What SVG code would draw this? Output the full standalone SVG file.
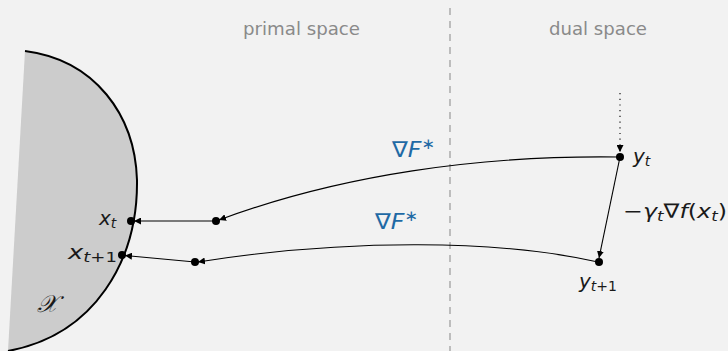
<svg xmlns="http://www.w3.org/2000/svg" width="728" height="351" viewBox="0 0 728 351">
<style>
.lbl{font-family:"DejaVu Sans","Liberation Sans",sans-serif;font-size:18px;fill:#8a8a8a}
.m{font-family:"DejaVu Sans","Liberation Sans",sans-serif;fill:#1a1a1a;font-style:italic;font-size:20px}
.sub{font-size:14px}
.up{font-style:normal}
.blue{font-family:"DejaVu Sans","Liberation Sans",sans-serif;fill:#1f6aa5;font-size:22px}
.edge{fill:none;stroke:#000;stroke-width:1.1}
.dot{fill:#000}
</style>
<defs>
<marker id="ah" viewBox="0 0 10 10" refX="10" refY="5" markerWidth="7" markerHeight="7" markerUnits="userSpaceOnUse" orient="auto">
<path d="M0,0 L10,5 L0,10 z" fill="#000"/>
</marker>
</defs>
<rect width="728" height="351" fill="#f2f2f2"/>
<g id="divider">
<line x1="450" y1="8" x2="450" y2="351" stroke="#999" stroke-width="1.2" stroke-dasharray="7,6"/>
</g>
<g id="headers">
<text class="lbl" x="243" y="35" textLength="117" lengthAdjust="spacingAndGlyphs">primal space</text>
<text class="lbl" x="549" y="35" textLength="98" lengthAdjust="spacingAndGlyphs">dual space</text>
</g>
<g id="region-X">
<path d="M25,51 C95,60 135,115 137,180 C138,260 95,335 8,351 L8,351 Z" fill="#cccccc" stroke="none"/>
<path d="M25,51 C95,60 135,115 137,180 C138,260 95,335 8,351" fill="none" stroke="#000" stroke-width="2"/>
<text x="37" y="312" style="font-family:'DejaVu Serif','Liberation Serif',serif;font-style:italic;font-size:24px;fill:#1a1a1a">𝒳</text>
</g>
<g id="connectors">
<line class="edge" x1="620" y1="93" x2="620" y2="152" stroke-dasharray="1.2,4.5" marker-end="url(#ah)"/>
<path class="edge" d="M620,157 C480,155 340,175 219,220" marker-end="url(#ah)"/>
<path class="edge" d="M598,262 C500,240 350,238 198,262" marker-end="url(#ah)"/>
<line class="edge" x1="216" y1="221" x2="134" y2="221" marker-end="url(#ah)"/>
<line class="edge" x1="195" y1="262" x2="125" y2="255.5" marker-end="url(#ah)"/>
<line class="edge" x1="620" y1="157" x2="599" y2="258" marker-end="url(#ah)"/>
</g>
<g id="node-xt">
<circle class="dot" cx="131" cy="221" r="4"/>
<text class="m" x="99" y="225">x<tspan class="sub" dy="3">t</tspan></text>
</g>
<g id="node-xt1">
<circle class="dot" cx="122" cy="255" r="4"/>
<text class="m" x="68" y="259" textLength="49" lengthAdjust="spacingAndGlyphs">x<tspan class="sub" dy="3">t<tspan class="up">+1</tspan></tspan></text>
</g>
<g id="node-p1">
<circle class="dot" cx="216" cy="221" r="4"/>
</g>
<g id="node-p2">
<circle class="dot" cx="195" cy="262" r="4"/>
</g>
<g id="node-yt">
<circle class="dot" cx="620" cy="157" r="4"/>
<text class="m" x="633" y="163">y<tspan class="sub" dy="3">t</tspan></text>
</g>
<g id="node-yt1">
<circle class="dot" cx="599" cy="262" r="4"/>
<text class="m" x="579" y="288" textLength="38" lengthAdjust="spacingAndGlyphs">y<tspan class="sub" dy="3">t<tspan class="up">+1</tspan></tspan></text>
</g>
<g id="labels">
<text class="blue" x="392" y="157" textLength="43" lengthAdjust="spacingAndGlyphs"><tspan>∇</tspan><tspan font-style="italic">F</tspan><tspan font-size="15" dy="-8">∗</tspan></text>
<text class="blue" x="375" y="229" textLength="43" lengthAdjust="spacingAndGlyphs"><tspan>∇</tspan><tspan font-style="italic">F</tspan><tspan font-size="15" dy="-8">∗</tspan></text>
<text class="m" x="623" y="218" textLength="104" lengthAdjust="spacingAndGlyphs"><tspan class="up">−</tspan>γ<tspan class="sub" dy="3">t</tspan><tspan class="up" dy="-3">∇</tspan>f<tspan class="up">(</tspan>x<tspan class="sub" dy="3">t</tspan><tspan class="up" dy="-3">)</tspan></text>
</g>
</svg>
